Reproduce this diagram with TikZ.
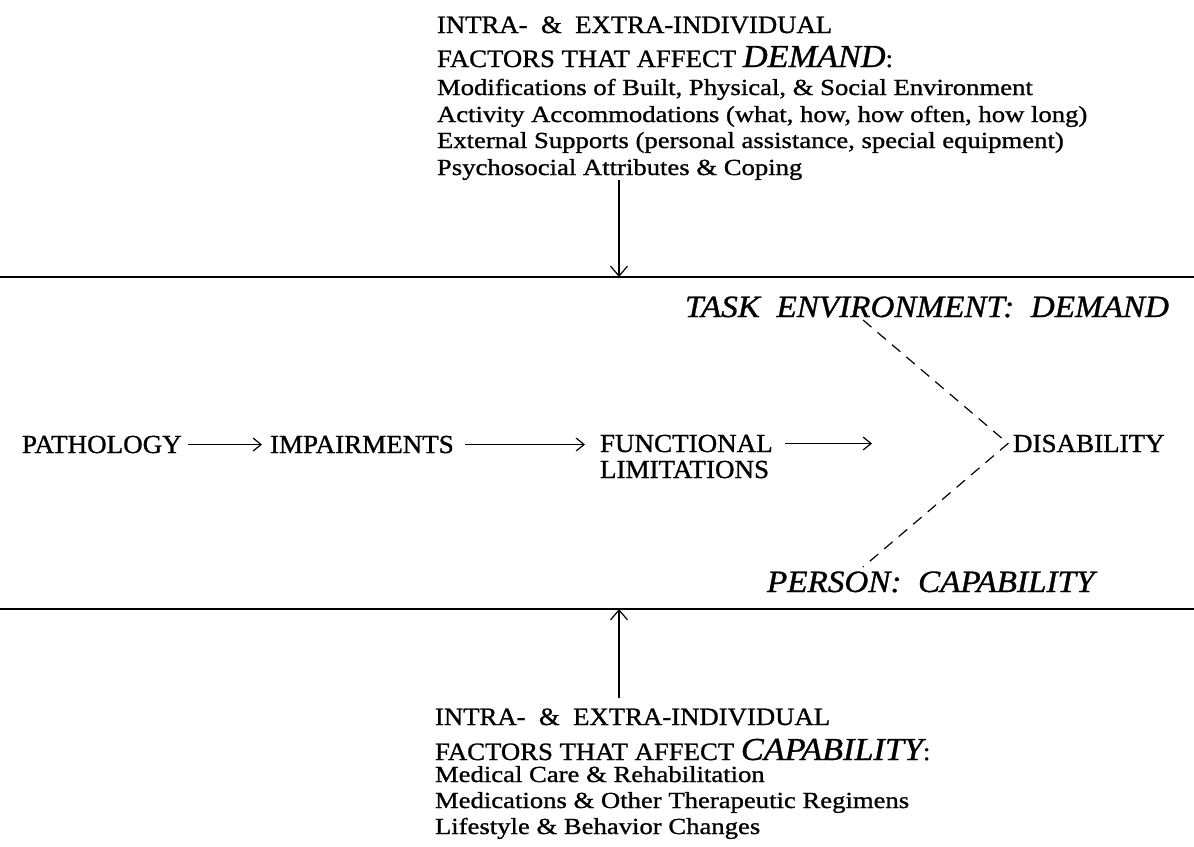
\documentclass[tikz,border=0pt]{standalone}
\usepackage{fontspec}
\setmainfont{Liberation Serif}[FakeBold=1]
\newfontfamily\itemfont{Liberation Serif}[FakeStretch=1.16,FakeBold=1]
\newfontfamily\headfont{Liberation Serif}[FakeStretch=1.07,FakeBold=1]
\newfontfamily\capsfont{Liberation Serif}[FakeStretch=1.04,FakeBold=1]
\usetikzlibrary{arrows.meta}

\begin{document}
\begin{tikzpicture}[x=1pt,y=-1pt,
  every node/.style={inner sep=0pt,outer sep=0pt,anchor=base west},
  caps/.style={font=\capsfont\fontsize{26}{26}\selectfont},
  head/.style={font=\headfont\fontsize{25}{25}\selectfont},
  item/.style={font=\itemfont\fontsize{23}{23}\selectfont},
  slabel/.style={font=\headfont\fontsize{31}{31}\selectfont\itshape},
  rule/.style={line width=1.8pt},
  arr/.style={line width=1.2pt,-{Straight Barb[length=8pt,width=13pt,line width=1.2pt]}},
  varr/.style={line width=1.2pt,-{Straight Barb[length=10pt,width=17pt,line width=1.2pt]}},
  dashline/.style={line width=1.2pt,dash pattern=on 11pt off 8pt}
]
\fill[white] (0,0) rectangle (1194,846);
\useasboundingbox (0,0) rectangle (1194,846);

% factors acting on demand
\node[head] (d1) at (437,33) {INTRA-\ \ \&\ \ EXTRA-INDIVIDUAL};
\node[head] (d2) at (437,67) {FACTORS THAT AFFECT {\fontsize{32}{32}\selectfont\itshape DEMAND}:};
\node[item] (d3) at (437,95) {Modifications of Built, Physical, \& Social Environment};
\node[item] (d4) at (437,122) {Activity Accommodations (what, how, how often, how long)};
\node[item] (d5) at (437,148) {External Supports (personal assistance, special equipment)};
\node[item] (d6) at (437,175) {Psychosocial Attributes \& Coping};

% the two boundary rules
\coordinate (tl) at (0,277);
\coordinate (tr) at (1194,277);
\coordinate (bl) at (0,609);
\coordinate (br) at (1194,609);
\draw[rule] (tl) -- (tr);
\draw[rule] (bl) -- (br);

\coordinate (dsrc) at (619,180);
\coordinate (dtip) at (619,277);
\draw[varr] (dsrc) -- (dtip);

% main sequence
\node[caps] (pat) at (22,453) {PATHOLOGY};
\node[caps] (imp) at (270,453) {IMPAIRMENTS};
\node[caps] (fun) at (600,452) {FUNCTIONAL};
\node[caps] (lim) at (600,478) {LIMITATIONS};
\node[caps] (dis) at (1013,452) {DISABILITY};

\node[slabel] (task) at (685,317) {TASK\ \ ENVIRONMENT:\ \ DEMAND};
\node[slabel] (pers) at (767,592) {PERSON:\ \ CAPABILITY};

\draw[arr] ([xshift=6pt]pat.east) -- ([xshift=-8pt]pat.east -| imp.west);
\draw[arr] ([xshift=11pt]imp.east) -- ([xshift=-15pt]imp.east -| fun.west);
\coordinate (fend) at (872,443);
\draw[arr] ([xshift=12pt]fun.east) -- (fun.east -| fend);

% demand and capability meeting at disability
\coordinate (dtop) at (863,320);
\coordinate (dbot) at (863,567);
\coordinate (vtx) at ([xshift=-5pt]dis.west);
\draw[dashline] (dtop) -- (vtx) -- (dbot);

% factors acting on capability
\coordinate (csrc) at (619,698);
\coordinate (ctip) at (619,609);
\draw[varr] (csrc) -- (ctip);

\node[head] (c1) at (435,725) {INTRA-\ \ \&\ \ EXTRA-INDIVIDUAL};
\node[head] (c2) at (435,760) {FACTORS THAT AFFECT {\fontsize{32}{32}\selectfont\itshape CAPABILITY}:};
\node[item] (c3) at (435,782) {Medical Care \& Rehabilitation};
\node[item] (c4) at (435,808) {Medications \& Other Therapeutic Regimens};
\node[item] (c5) at (435,834) {Lifestyle \& Behavior Changes};
\end{tikzpicture}
\end{document}
